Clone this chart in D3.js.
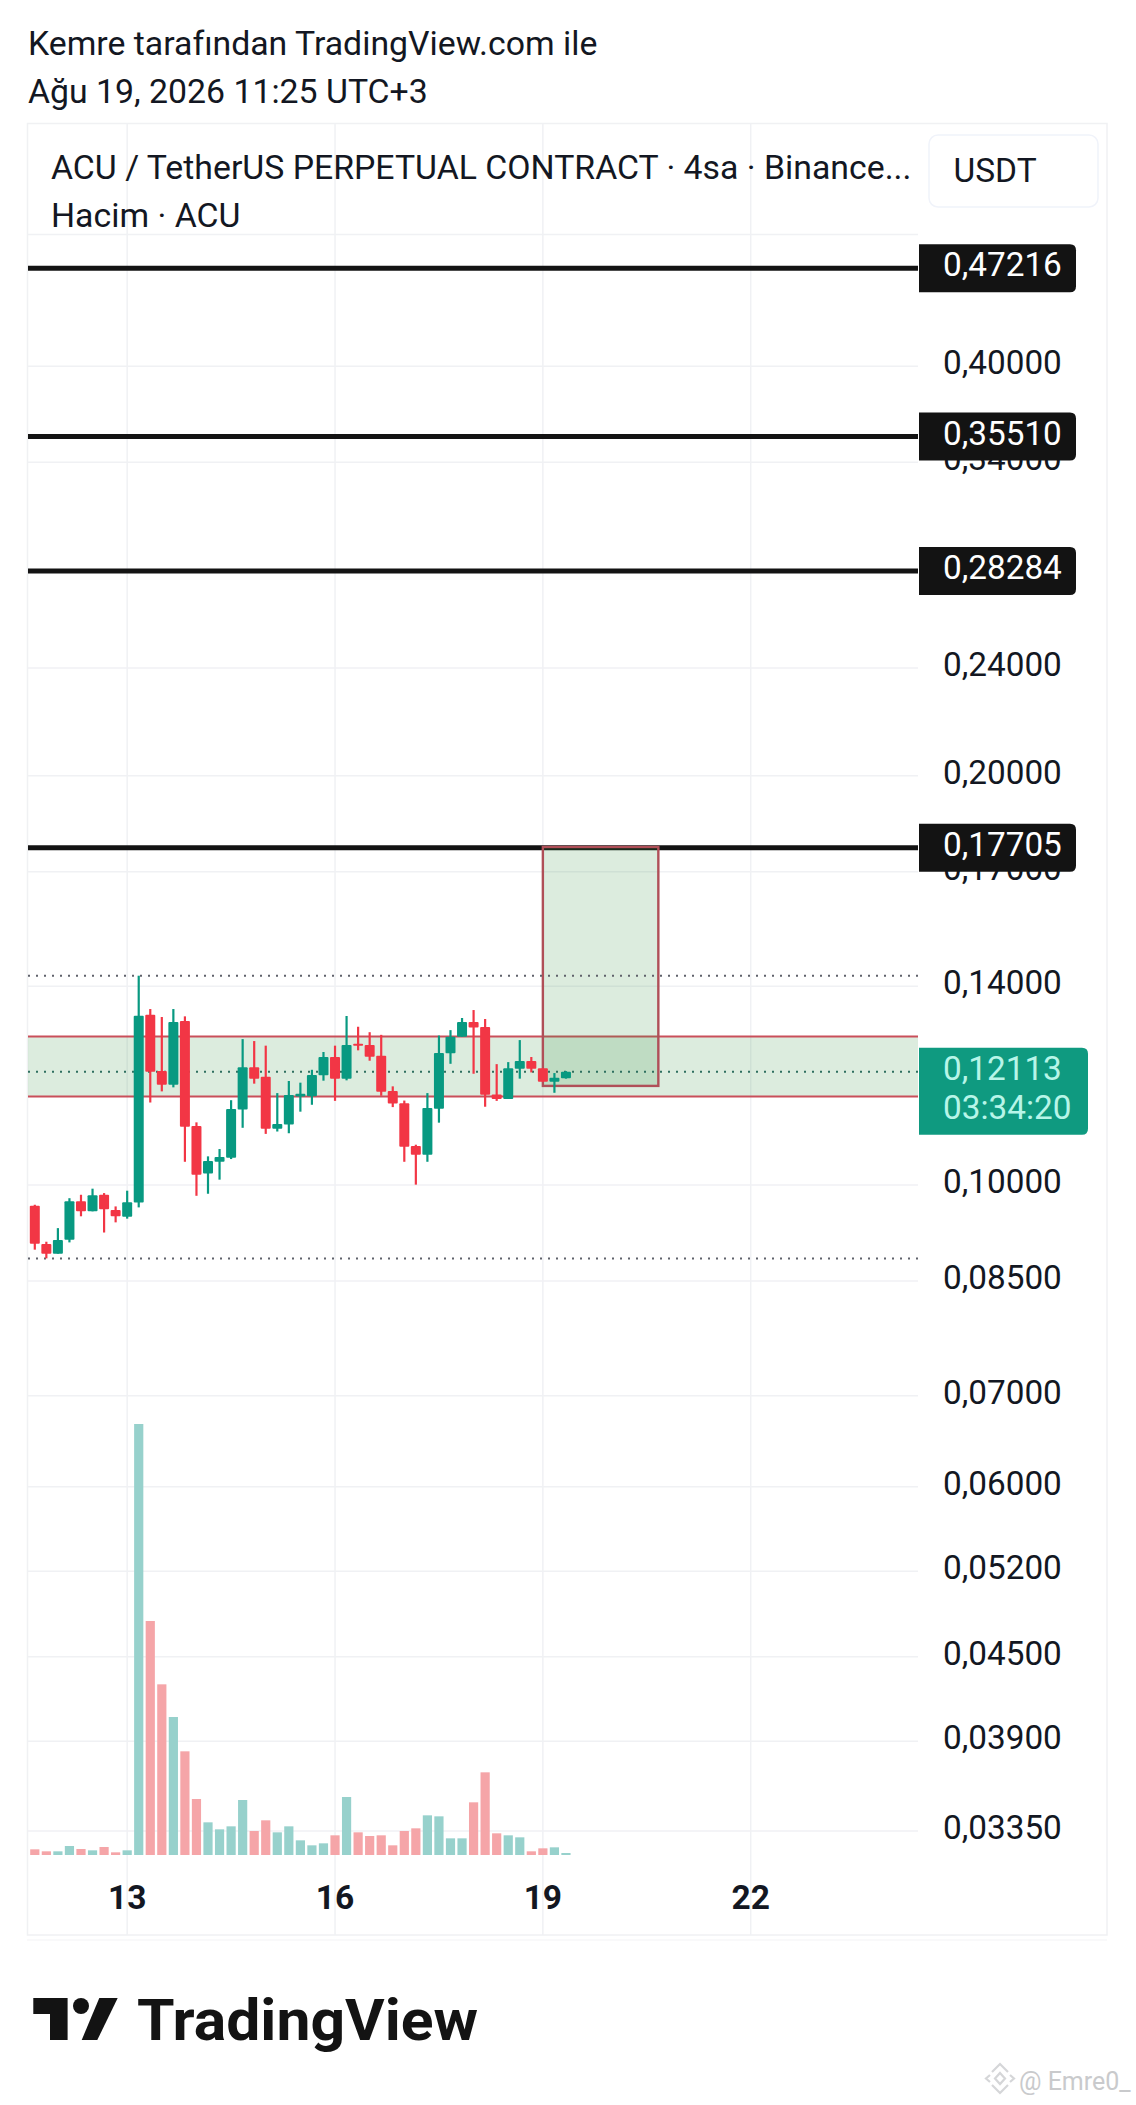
<!DOCTYPE html>
<html><head><meta charset="utf-8">
<script src="https://cdn.jsdelivr.net/npm/d3@7"></script>
<style>html,body{margin:0;padding:0;background:#fff}svg{display:block}text{font-family:Roboto,sans-serif}</style>
</head><body><div id="c"></div>
<script>
const opens =[.09656,.09050,.08903,.09116,.09731,.09565,.09837,.09586,.09479,.09709,.13344,.12128,.11853,.13201,.11050,.10199,.10402,.10474,.11367,.12209,.12014,.10999,.11082,.11618,.11625,.12041,.12421,.11974,.12704,.12676,.12449,.11725,.11488,.10683,.10528,.11380,.12499,.12853,.13179,.13066,.11658,.11571,.12175,.12335,.12188,.11913,.11980];
const highs =[.09672,.09085,.09297,.09780,.09837,.09939,.09865,.09645,.09905,.14254,.13472,.13291,.13472,.13306,.11120,.10498,.10629,.11545,.12803,.12761,.12662,.11685,.11927,.11893,.12155,.12527,.12662,.13314,.13074,.12954,.12896,.11819,.11538,.10707,.11685,.12881,.12999,.13269,.13449,.13246,.12272,.12314,.12782,.12421,.12188,.12088,.12128];
const lows  =[.08964,.08833,.08903,.09075,.09485,.09565,.09228,.09388,.09447,.09629,.11500,.11719,.11799,.10402,.09820,.09854,.10092,.10450,.11018,.11873,.10905,.10949,.10917,.11323,.11456,.11933,.11532,.11940,.12562,.12343,.11632,.11411,.10402,.10007,.10402,.11114,.12279,.12853,.12074,.11418,.11532,.11571,.11974,.12101,.11913,.11691,.11974];
const closes=[.09055,.08903,.09111,.09731,.09565,.09831,.09597,.09485,.09715,.13322,.12115,.11853,.13179,.11037,.10176,.10414,.10486,.11373,.12209,.11974,.10999,.11088,.11645,.11672,.12048,.12421,.11974,.12676,.12662,.12428,.11712,.11481,.10671,.10528,.11392,.12506,.12853,.13179,.13059,.11652,.11571,.12188,.12335,.12175,.11913,.11994,.12113];
const volumes=[17,11,11,27,18,14,24,8,14,1293,702,512,414,311,168,98,77,86,165,72,104,68,86,44,29,35,59,174,68,57,59,29,72,80,119,116,50,50,158,248,65,59,53,11,20,23,6];
const levelPrices=[0.47216,0.35510,0.28284,0.17705];
const levelLabels=["0,47216","0,35510","0,28284","0,17705"];
const priceTicks=[0.5,0.40,0.34,0.24,0.20,0.17,0.14,0.10,0.085,0.07,0.06,0.052,0.045,0.039,0.0335];
const priceTickLabels=["","0,40000","0,34000","0,24000","0,20000","0,17000","0,14000","0,10000","0,08500","0,07000","0,06000","0,05200","0,04500","0,03900","0,03350"];
const dayTickBars=[8,26,44,62];
const dayTickLabels=["13","16","19","22"];
const zonePrices=[0.12858,0.1162];
const boxPrices=[0.17725,0.11828];
const boxBars=[44,54];
const dottedPrices=[0.14250,0.12113,0.08832];
const lastPrice=0.12113, lastLabel="0,12113", countdown="03:34:20";
const titleLines=["Kemre tarafından TradingView.com ile","Ağu 19, 2026 11:25 UTC+3"];
const header=["ACU / TetherUS PERPETUAL CONTRACT · 4sa · Binance...","Hacim · ACU"];

const W=1136,H=2105,L=28,R=918,UP="#089981",DN="#f23645",GRID="#f0f1f4",INK="#131722";
const svg=d3.select("#c").append("svg").attr("width",W).attr("height",H).attr("viewBox",`0 0 ${W} ${H}`);
const x=d3.scaleLinear().domain([0,46]).range([34.8,34.8+46*11.547]);
const y=d3.scaleLog().domain([0.47216,0.0335]).range([268.3,1831]);
const vBase=1855, v=d3.scaleLinear().domain([0,1293]).range([vBase,vBase-431]);
const defs=svg.append("defs");
defs.append("clipPath").attr("id","plot").append("rect").attr("x",L).attr("y",123).attr("width",R-L).attr("height",1812);

// frame
svg.append("rect").attr("x",27.5).attr("y",123.5).attr("width",1079.5).attr("height",1811.5).attr("fill","none").attr("stroke","#f0f1f3").attr("stroke-width",1.5);
svg.append("line").attr("x1",27).attr("x2",1107).attr("y1",1940).attr("y2",1940).attr("stroke","#f7f7f8").attr("stroke-width",1.5);

// grid
svg.append("g").selectAll("line").data(dayTickBars).join("line")
 .attr("x1",d=>x(d)).attr("x2",d=>x(d)).attr("y1",123).attr("y2",1935).attr("stroke",GRID).attr("stroke-width",1.5);
svg.append("g").selectAll("line").data(priceTicks).join("line")
 .attr("x1",L).attr("x2",R).attr("y1",d=>y(d)).attr("y2",d=>y(d)).attr("stroke",GRID).attr("stroke-width",1.5);

// volume
const bars=d3.range(opens.length);
svg.append("g").selectAll("rect").data(bars).join("rect")
 .attr("x",i=>x(i)-4.6).attr("width",9.2)
 .attr("y",i=>v(volumes[i])).attr("height",i=>vBase-v(volumes[i]))
 .attr("fill",i=>closes[i]>=opens[i]?"#97d1cc":"#f5a5a8");

// levels
svg.append("g").selectAll("line").data(levelPrices).join("line")
 .attr("x1",L).attr("x2",R).attr("y1",d=>y(d)).attr("y2",d=>y(d)).attr("stroke","#131313").attr("stroke-width",5);

// zone and box
const ZF="rgba(60,150,70,0.18)",RS="#c94f5a";
svg.append("rect").attr("x",L).attr("width",R-L).attr("y",y(zonePrices[0])).attr("height",y(zonePrices[1])-y(zonePrices[0])).attr("fill",ZF);
svg.append("g").selectAll("line").data(zonePrices).join("line")
 .attr("x1",L).attr("x2",R).attr("y1",d=>y(d)).attr("y2",d=>y(d)).attr("stroke",RS).attr("stroke-width",2);
svg.append("rect").attr("x",x(boxBars[0])).attr("width",x(boxBars[1])-x(boxBars[0])).attr("y",y(boxPrices[0])).attr("height",y(boxPrices[1])-y(boxPrices[0])).attr("fill",ZF).attr("stroke","#b04f58").attr("stroke-width",2.4);

// dotted
svg.append("g").selectAll("line").data(dottedPrices).join("line")
 .attr("x1",L).attr("x2",R).attr("y1",d=>y(d)).attr("y2",d=>y(d)).attr("stroke",(d,i)=>i==1?"#2f6f60":"#5f626b").attr("stroke-width",2).attr("stroke-dasharray","2 6");

// candles
const cg=svg.append("g").attr("clip-path","url(#plot)");
cg.selectAll("line").data(bars).join("line")
 .attr("x1",i=>x(i)).attr("x2",i=>x(i)).attr("y1",i=>y(highs[i])).attr("y2",i=>y(lows[i]))
 .attr("stroke",i=>closes[i]>=opens[i]?UP:DN).attr("stroke-width",2.2);
cg.selectAll("rect").data(bars).join("rect")
 .attr("x",i=>x(i)-5).attr("width",10).attr("rx",1)
 .attr("y",i=>y(Math.max(opens[i],closes[i])))
 .attr("height",i=>Math.max(1.5,Math.abs(y(opens[i])-y(closes[i]))))
 .attr("fill",i=>closes[i]>=opens[i]?UP:DN);

// axis labels
const FS=33.3;
svg.append("g").selectAll("text").data(priceTicks.filter((d,i)=>priceTickLabels[i])).join("text")
 .attr("x",943).attr("y",d=>y(d)+8).attr("font-size",FS).attr("fill",INK).text(d=>priceTickLabels[priceTicks.indexOf(d)]);
svg.append("g").selectAll("text").data(dayTickBars).join("text")
 .attr("x",d=>x(d)).attr("y",1909).attr("text-anchor","middle").attr("font-size",33.5).attr("font-weight",700).attr("fill",INK).text((d,i)=>dayTickLabels[i]);

// level tags
const tag=svg.append("g").selectAll("g").data(levelPrices).join("g");
tag.append("path").attr("d",d=>{const t=y(d)-24,b=y(d)+24,l=919,r=1076,c=6;return `M${l},${t}H${r-c}Q${r},${t} ${r},${t+c}V${b-c}Q${r},${b} ${r-c},${b}H${l}Z`}).attr("fill","#131313");
tag.append("text").attr("x",943).attr("y",d=>y(d)+8).attr("font-size",FS).attr("fill","#fff").text((d,i)=>levelLabels[i]);

// last price tag
const ly=y(lastPrice);
svg.append("path").attr("d",`M919,${ly-24}H1082Q1088,${ly-24} 1088,${ly-18}V${ly+57}Q1088,${ly+63} 1082,${ly+63}H919Z`).attr("fill","#0f9a80");
svg.append("text").attr("x",943).attr("y",ly+8).attr("font-size",FS).attr("fill","#b7f5e8").text(lastLabel);
svg.append("text").attr("x",943).attr("y",ly+47).attr("font-size",FS).attr("fill","#b7f5e8").text(countdown);

// title + header
svg.append("g").selectAll("text").data(titleLines).join("text").attr("x",28).attr("y",(d,i)=>55+i*48).attr("font-size",33.8).attr("fill",INK).text(d=>d);
svg.append("g").selectAll("text").data(header).join("text").attr("x",51).attr("y",(d,i)=>179+i*48).attr("font-size",33.8).attr("fill",INK).text(d=>d);
svg.append("rect").attr("x",929).attr("y",135).attr("width",169).attr("height",72).attr("rx",9).attr("fill","#fff").attr("stroke","#f0f3fa").attr("stroke-width",1.5);
svg.append("text").attr("x",953.5).attr("y",182).attr("font-size",33.5).attr("fill",INK).text("USDT");

// logo
const lg=svg.append("g").attr("fill","#131313");
lg.append("path").attr("d","M33.3,1998H67.6V2040H50V2014H33.3Z");
lg.append("circle").attr("cx",81).attr("cy",2006).attr("r",8);
lg.append("path").attr("d","M99.3,1998H117.7L97.3,2040H81.7Z");
lg.append("text").attr("x",137).attr("y",2040).attr("font-size",58).attr("font-family","Inter").attr("font-weight",700).attr("textLength",341).attr("lengthAdjust","spacingAndGlyphs").text("TradingView");

// watermark
const wm=svg.append("g").attr("fill","none").attr("stroke","#d5d6d8").attr("stroke-width",2.2);
wm.append("path").attr("d","M992,2072L1000,2064L1008,2072");
wm.append("path").attr("d","M992,2085L1000,2093L1008,2085");
wm.append("path").attr("d","M1000,2073L1005,2078.5L1000,2084L995,2078.5Z");
wm.append("path").attr("d","M990,2075L986,2078.5L990,2082");
wm.append("path").attr("d","M1010,2075L1014,2078.5L1010,2082");
svg.append("text").attr("x",1019).attr("y",2090).attr("font-size",25).attr("fill","#c9cacc").text("@ Emre0_");
</script></body></html>
